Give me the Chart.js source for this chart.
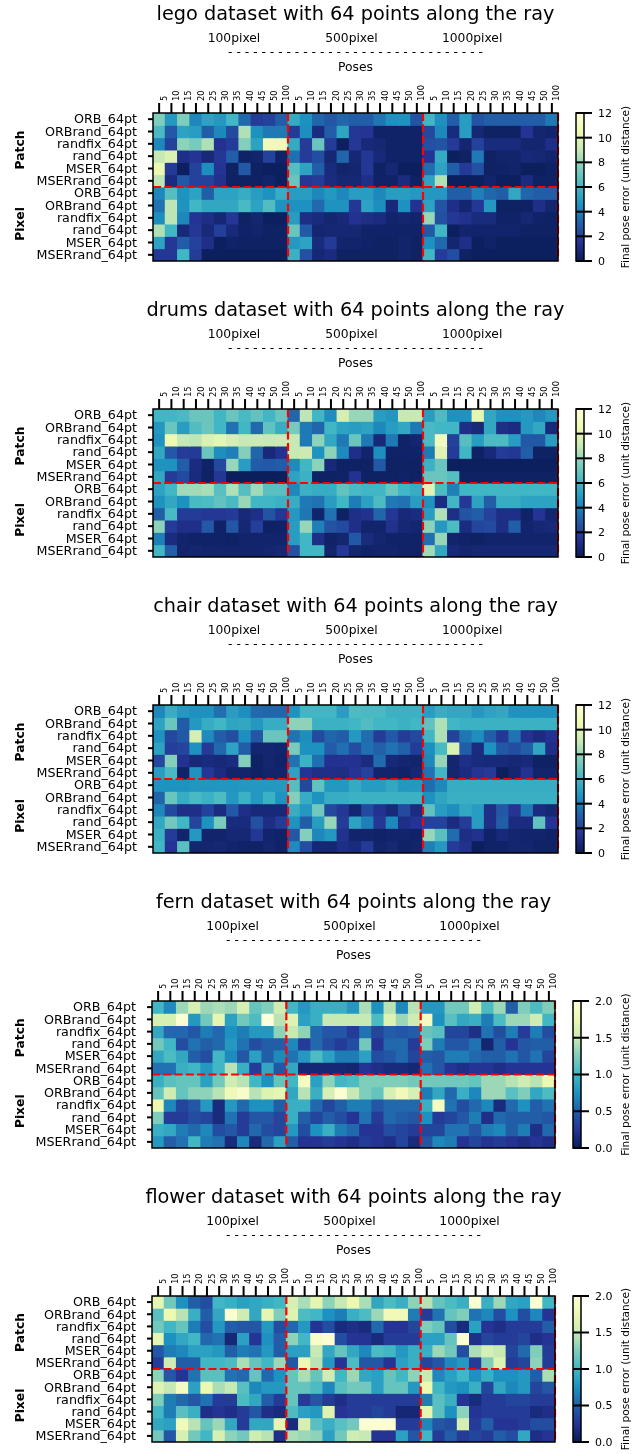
<!DOCTYPE html>
<html>
<head>
<meta charset="utf-8">
<title>Final pose error heatmaps</title>
<script src="https://cdn.jsdelivr.net/npm/chart.js@4"></script>
<style>
  body { margin: 0; background: #fff; }
  #page { position: relative; width: 643px; height: 1454px; overflow: hidden; }
  canvas { position: absolute; }
</style>
</head>
<body>
<div id="page"></div>
<script>
const poseTicks = ['5', '10', '15', '20', '25', '30', '35', '40', '45', '50', '100'];
const categories = [...poseTicks, ...poseTicks, ...poseTicks];
const rowLabels = ['ORB_64pt', 'ORBrand_64pt', 'randfix_64pt', 'rand_64pt', 'MSER_64pt', 'MSERrand_64pt',
  'ORB_64pt', 'ORBrand_64pt', 'randfix_64pt', 'rand_64pt', 'MSER_64pt', 'MSERrand_64pt'];
const groupLabels = ['100pixel', '500pixel', '1000pixel'];

const legoValues = [
  [7.5,4.8,7.5,4.2,5.2,4.8,6,3.3,1.8,2,3, 5.5,4.5,3.2,2.7,3.2,3,3,3.7,4.5,4.6,2.6, 6,4.5,3,5,2.6,3,3,3,3,3,3.8],
  [6.2,2.8,5.2,5,3,4.2,2.3,8.5,4.5,3.8,3.8, 1.7,4.4,1,3,5.3,1.6,1.5,.4,.4,.4,.4, 2.2,4.2,.9,5,.7,.3,.3,.3,1.5,.6,.5],
  [4.2,2,7.8,7.3,8.5,1.4,1.8,7.6,5.2,10.8,10.8, 5.5,1.8,7,1.8,.2,1.6,.8,.7,.4,.4,.4, 2.5,2.6,1.7,.6,2,.9,.9,.9,.6,.6,1.2],
  [9,9.8,1.2,1.5,.8,1.6,3,.4,.5,2,.4, 3.5,1.8,2.4,.7,3.2,.7,1.6,.8,.4,.4,.4, 1.5,5.5,.2,.3,3.8,.3,.5,.5,.8,.7,.5],
  [10.5,1.7,.2,2,4.4,1.5,.3,2.8,.3,.2,.2, 6.5,5.2,3,.9,.5,.6,1.6,.3,.7,.2,.2, 3.4,5.2,3,1.7,2.5,.3,.4,.5,.2,.2,.3],
  [8.8,1,2.8,2,2,1.3,.3,.3,.3,.5,.2, 7,1.6,1.8,1,.7,.7,1.2,.4,.4,1,.3, 5.2,8.5,.2,.2,.2,.5,.2,.2,1,.3,.3],
  [4.2,6.5,4.6,5.2,3,5.2,5.2,5.6,5,4.5,5.6, 5,5,4.2,4.8,4.2,5,5,4.2,5,5,4.8, 4.8,4.8,3,3,4,3.2,3,5.4,3.2,3,3],
  [3.6,8.8,4.6,6,5.4,5.4,5.4,6.2,5.2,6.4,4.6, 4.5,4.5,3.3,4.6,4.6,1.6,5.2,4.4,.8,4.5,1.4, 5.2,2.6,1.2,.6,1.6,4.8,.3,.3,.3,1.2,.6],
  [4.4,8.8,4.2,1.5,1.1,.7,1.6,.3,.6,.2,.2, 5,1.1,.9,.6,.8,1.4,1.1,1,.5,.6,.5, 8,2.5,1.6,1.3,.9,.9,.4,.4,.7,.4,.3],
  [8.5,6,.8,1.6,.8,1.9,.8,.4,.5,.3,.3, 7,2.8,.6,.7,.7,.7,.4,.4,.4,.4,.4, 2.8,6,.2,.5,.5,.5,.5,.5,.3,.3,.3],
  [5.2,1.6,2.9,2,1.2,.2,.4,.3,.3,.3,.3, 4.8,5.2,.9,1.7,.5,.5,.4,.3,.3,.5,.3, 4.5,3.3,.6,1.2,.2,.4,.2,.2,.2,.2,.2],
  [1.6,1.6,6,1.8,.2,.2,.2,.2,.2,.2,.2, 5.8,2.5,.7,1,.3,.3,.3,.3,.3,.5,.3, 6,1.8,2.4,.3,.2,.2,.2,.2,.2,.2,.2]
];
const drumsValues = [
  [6,6,6.2,7,7,6,7,6.2,6.8,6,7, 3.2,8.8,6,4.4,9.5,8,8,5,4.7,9,9, 5,6.3,4.5,4.6,10.2,5.4,4.5,4.5,4.8,4.2,4.8],
  [4.8,7,5,6.4,7,6,3.6,6,3.3,6.8,5.6, 7.3,3.8,3.2,6,5.2,5,5.2,4.2,5,5.4,3.8, 6.2,6,6,1.2,.8,5.4,1.2,1,4.8,5.4,.8],
  [4.6,10.5,9,8.8,9.8,10.2,9.5,9,9.2,9,9.2, 9,3.8,7.8,5.4,3.8,7,3.8,.8,3.8,.4,.6, 6.2,11,2,6.5,5,6.3,6.3,5,2.8,2.8,5],
  [5.4,2.8,1.8,1.7,7,4.4,4,7.6,3.2,.8,1.4, 9,9.2,4.6,7.8,4.3,1.2,.5,4.4,.4,.4,.4, 3.8,10,1.8,6,.3,.8,1.8,1.6,3,.3,.3],
  [4.6,4.6,3,1,.4,2.2,8,5,2.9,2.8,2.9, 4.3,6,7.8,.8,.3,.3,.3,2.8,.3,.3,.3, 5.8,7,.2,.2,.2,.2,.2,.2,.2,.2,.2],
  [5.4,1.8,2.3,.9,.3,1.6,.1,.1,.1,.1,.1, 5.2,5.8,.3,.3,.4,1.4,.3,.3,.3,.4,.3, 7,7,6.5,.3,.3,.3,.3,.3,.3,.3,.3],
  [5.2,6,8.2,8.2,8.4,6.6,8.5,6.5,8.2,6.6,6.6, 4.2,5.8,5.6,5.6,6.8,6.2,6,6,7,6,5.6, 10,6.3,4,6,6,6,6,6,6,6,6],
  [4.6,5.4,4.5,6.2,6.3,6.8,6.2,8,6,6,5.8, 5.6,3.8,3.6,5,6,3.9,5.1,6.3,3.8,3.6,5, 4.6,1,6,1.6,5.2,3,5.6,5.6,5.2,5.2,5.2],
  [3,6.2,1.8,1.8,1.6,1.6,1.7,.8,1.2,2.6,1.6, 4.8,3.7,.5,3.6,.3,1.2,1.4,3.2,1.6,.8,1, 5,8.5,1.2,2.6,3,2,1.2,1.2,.4,1.5,.6],
  [7.8,1.8,1.2,1.2,2.8,.4,2.7,.7,1.9,.3,.4, 5,8,4,2.6,2.3,1.2,.5,.5,1.3,.7,.6, 7.8,4.8,6.3,1,2.1,2.3,1.1,3,.5,.7,.8],
  [4,1,.5,.4,.4,.4,.3,.5,.5,.5,.5, 5,6,1.2,.4,.6,2.8,.9,.6,.4,.4,.4, 3.5,8,.5,.4,.3,.5,.5,.5,.5,.5,.5],
  [6,3,.5,.6,.5,.5,.5,.5,.5,.6,.7, 2.5,6,6,.5,1.6,.6,.4,.5,.5,.4,.4, 8.2,5.4,.8,.6,.7,.7,.7,.7,.7,.7,.7]
];
const chairValues = [
  [4.2,5.6,4.8,4.5,4.5,3.5,5,4.4,3.3,3.2,3.2, 4.6,6,6,6,5,6.3,6.2,6.2,5.8,5.8,5.8, 5,5.6,5.4,5.4,4.8,5.2,5.4,4.6,4.6,4.6,4.6],
  [5.2,7,2.9,4.8,5.6,6,5.3,5.4,4.8,5.6,5.6, 7.8,7.8,5.8,5.8,5.8,6,6.4,6,6,5.8,6, 6.8,8.5,6,5.8,5.8,5.8,5.8,5.8,5.8,5.8,5.8],
  [4.6,2.2,2.8,9.5,4.3,3,2.4,4.4,2.7,7,7, 3.6,4.4,2.3,3.2,2.9,4.8,3.4,1.8,2.8,1.8,2.2, 6,8.5,2,3.7,4.4,3,1.6,3.6,1.4,1,1.4],
  [5.2,1.9,2.1,4.5,1.7,3.3,5.2,3,.6,.6,.5, 7.4,4.5,4.5,2.9,3.5,2.4,3.5,3.1,3.6,3.1,1.8, 4.4,6.2,9.8,3,1,4.5,2.8,2.4,3,5.3,1.2],
  [2.2,7.6,1.4,.8,.9,.8,1,7.6,.3,.6,.4, 3.6,5.8,3.5,1.4,1.4,1.4,1,3.4,.8,.6,.5, 4.2,8,.6,1.2,.9,.8,.8,.7,.8,.3,.3],
  [5,6.2,.4,4.6,1.6,1,.5,.5,.3,.5,.5, 5.2,1.5,1.2,1.2,1.1,1.5,2,.5,.5,.4,.7, 3.6,6,.6,1,1.5,1.7,.2,.6,1.4,.5,.5],
  [4.6,4.6,4.6,4.7,4.7,4.7,4.7,4.8,4.8,4.8,4.8, 6.5,2.2,6.8,4.8,4.8,5.5,4.9,4.9,5.4,4.8,4.8, 3.4,4.2,5.6,5.6,5.6,5.6,5.6,5.6,5.6,5.6,5.6],
  [3.2,7,5.6,6.2,5.8,6.3,4.8,5.8,4.8,5.8,4.6, 7.6,5.6,4.6,5.6,5.6,5.8,5.8,5.8,5.8,5.8,5.8, 4.5,5.3,5.7,5.7,5.7,5.7,5.7,5.7,5.7,5.7,5.7],
  [4.2,2.2,1.2,1.2,2,1,2.8,1.2,.8,.8,.8, 5.6,4.8,7.2,2.2,1.6,.6,2.3,1.4,.8,2.3,1, 6.8,5,4.4,5.4,5,1.2,2.8,1.5,3.8,1,.7],
  [5.4,7.2,6,2.1,4.6,7.4,.9,.9,2.5,1.1,1.8, 4.6,3,5,8,1.8,5.2,4,1.6,4.2,1.2,1.5, 2,2,1,1.8,5,1.2,3,1,1,6.8,1.5],
  [5.8,1.8,.5,4.8,.5,.5,.7,.7,1.6,.5,.4, 2.7,7.6,4.2,4.8,1.3,.5,.5,.4,.5,.5,.4, 8,6.6,3.4,1.1,1.3,.4,.8,.6,.5,.5,.4],
  [6,1.5,6.6,.6,.6,.7,.5,.4,.4,.6,.4, 4.3,2.4,.7,.7,1.1,.9,1.7,.5,.7,.4,.5, 4,4.8,1.8,1.3,.2,.4,.4,.6,.6,.4,.4]
];
const fernValues = [
  [1,.72,1.35,1.6,1.35,1.4,1.35,1.6,1.15,1.25,1.55, 1,.8,.95,.95,.95,.8,1.4,.75,1.45,.7,1.45, .8,.8,1.2,1.2,1.55,1.05,1.35,.5,1.25,1.05,1.25],
  [1.6,1.6,1.95,.8,1.2,1.7,.85,1.2,1.05,2,1.45, 1.65,.85,.95,1.5,1.5,1.5,1.5,1.05,1.65,1.35,1.55, 1.85,.75,1.1,.9,.95,.65,1.05,1.35,1.35,1.55,1],
  [.9,.55,.55,.45,.65,.55,.75,.65,.8,.8,1.3, 1.5,1.3,.55,.45,.45,.3,.6,.35,.5,.45,.5, 1.15,1.1,.35,.35,.2,.6,.4,.65,.3,.65,.4],
  [1.2,1,.4,.6,.5,.55,.8,.6,.4,.5,.5, .7,.3,.55,.4,.3,.4,1.2,.25,.55,.55,.3, 1.25,.65,.45,.45,.6,.1,.5,.25,.45,.5,.5],
  [.9,1.05,.9,.5,.4,1,.72,.45,.85,.5,.72, .6,.8,1.05,.85,.65,.65,.85,.4,.45,.55,.35, .5,.45,.65,.65,.55,.5,.5,.6,.45,.6,.35],
  [.6,.6,.95,1,.8,1,1.45,.95,.3,.9,.45, .9,.12,.12,.12,.12,.1,.25,.2,.15,.15,.12, .6,.45,.25,.2,.25,.25,.2,.25,.25,.25,.25],
  [.95,1.1,1.15,1.15,.85,1.2,1.55,1.45,1,.75,1.15, 1,1.85,.85,1.3,1,1.05,1.25,1.25,1.25,1.25,1.2, 1.2,1.2,1.2,1.2,1.15,1.35,1.35,1.45,1.55,1.45,1.75],
  [1.15,1.55,1.15,1.3,1.3,1.45,1.8,1.9,1.45,1.65,1.7, .9,1.45,.95,1.6,1.95,1.5,1.25,1.15,1.6,1.8,1.6, .65,.9,.55,.95,.7,1.35,1.35,1.1,1.25,.9,1.05],
  [1.75,.7,.35,.45,.8,.15,.8,.55,.75,.75,.5, .95,.95,.55,.35,.5,.65,.65,.45,.55,.55,.55, .95,1.85,.6,.4,.55,.7,.15,.55,.75,.5,.6],
  [1.25,.3,.3,.4,.35,.15,.6,.3,.45,.45,.35, .95,.5,.35,.5,.4,.25,.6,.3,.55,.5,.45, .75,.3,.35,.45,.65,.2,.55,.5,.5,.5,.45],
  [.95,.9,.65,.55,.7,.4,.45,.3,.55,.4,.35, .8,.4,.75,.95,.65,.55,.25,.25,.4,.35,.3, .35,.35,.6,.6,.45,.65,.7,.5,.65,.2,.55],
  [.8,.5,.6,1,.65,.6,.15,.7,.15,.55,.85, .5,.25,.25,.3,.25,.2,.3,.25,.2,.35,.15, .45,.7,.65,.25,.35,.25,.3,.25,.2,.25,.2]
];
const flowerValues = [
  [1.7,1.2,.75,.5,.4,1,.95,.85,.9,.95,1, 1.6,1.4,1.7,1.3,1.5,1.75,1.4,.9,1.05,.95,1.3, 1.45,1.15,1.05,.95,1.95,.95,1.35,.9,.85,1.95,1],
  [1.1,1.75,1.45,.95,.5,.9,1.95,1.55,.9,1.7,1.25, 1.65,1.05,1,.75,.65,.95,1.05,1.35,1.8,1.8,.65, .3,.6,1.15,1.25,.6,.7,.4,.75,.4,.7,.25],
  [1.2,1,1.15,.65,.4,.8,.5,.45,.45,.8,.4, .55,.8,.25,.4,.15,.2,.15,.55,.25,.25,.35, 1.25,1.15,.4,.15,.85,.25,.2,.3,.3,.3,.5],
  [1.7,.75,.9,1,.55,.6,.12,.85,.25,.75,.5, 1.3,1,1.9,1.95,.4,.25,.25,.15,.3,.3,.3, .85,.85,1.15,1.95,.2,.35,.3,.3,.35,.2,.25],
  [.45,.65,.7,.85,.85,.8,.5,.65,.6,.8,.5, .85,.85,1.5,.9,1.15,.9,.7,1.05,1,.8,.95, .95,1.35,1.2,.4,1.4,1.6,1.5,.35,.55,1.25,.3],
  [.3,1.55,.5,.5,1,1,1.05,1.4,1.15,1,1.35, .45,1.75,1.45,.8,.25,1.05,.45,.45,.25,.85,.95, .35,.45,.7,.8,.3,1.25,1.65,.3,.35,1.3,.3],
  [1.3,.45,.25,.6,1.1,1.1,.6,.55,1.15,.55,.75, 1.15,1.4,1.15,1.55,1,1.35,.9,.85,1.15,1,1.3, 1.5,.7,.85,1,.75,.95,.75,.75,.8,.5,1.4],
  [1.65,1.5,1.85,.85,1.75,1.4,1.5,1.1,.7,.8,.8, 1.15,1.15,1.05,.7,1.1,1.2,1.2,.85,1.15,1.15,.8, 1.75,1,.8,.75,.95,.35,.9,.7,.8,.35,.45],
  [1.25,.65,.55,.45,.6,.3,.3,1.05,.9,.5,.3, 1.15,.3,.45,.3,.2,.3,.3,.3,.3,.3,.3, .65,1.1,.95,.25,.15,.3,.3,.35,.35,.3,.3],
  [1,.65,1.1,.95,.2,.25,.2,.3,.45,.2,.15, 1.05,.85,.8,1.65,.25,.3,.3,.35,.3,.12,.12, 1.7,1.1,.75,1.3,.25,.3,.3,.3,.3,.15,.2],
  [.9,.85,1.8,1.45,1.15,1.35,.9,.3,.9,.9,1.7, .15,1.6,1.1,.95,1.1,1.2,1.95,1.95,1.95,.3,.3, .7,.45,.4,1.6,.3,.5,.25,.25,.3,.4,.4],
  [1.2,.45,1.6,1.2,1,1.6,1.3,1.2,1.55,1.45,.2, 1.4,1.35,1.3,.85,1.2,1.55,1.5,.25,.25,.85,.45, 1,.3,.5,.3,.35,.3,.5,.4,.9,.2,.25]
];

const FONT = "'DejaVu Sans'";
Chart.defaults.font.family = FONT;
Chart.defaults.color = '#000';

// YlGnBu reversed, sampled stops
const cmapStops = [
  [8, 29, 88], [37, 52, 148], [34, 94, 168], [29, 145, 192], [65, 182, 196],
  [127, 205, 187], [199, 233, 180], [237, 248, 177], [255, 255, 217]
];
function lerp(a, b, t) { return a + (b - a) * t; }
function colorFor(t) {
  t = Math.max(0, Math.min(1, t));
  const idx = t * (cmapStops.length - 1);
  const i0 = Math.floor(idx);
  const i1 = Math.min(cmapStops.length - 1, i0 + 1);
  const u = idx - i0;
  const c0 = cmapStops[i0];
  const c1 = cmapStops[i1];
  return `rgb(${Math.round(lerp(c0[0], c1[0], u))},${Math.round(lerp(c0[1], c1[1], u))},${Math.round(lerp(c0[2], c1[2], u))})`;
}

function addCanvas(left, top, width, height) {
  const c = document.createElement('canvas');
  c.width = width;
  c.height = height;
  c.style.left = left + 'px';
  c.style.top = top + 'px';
  c.style.width = width + 'px';
  c.style.height = height + 'px';
  document.getElementById('page').appendChild(c);
  return c;
}

// fixed axis boxes, so the chart area lands exactly where the reference has it
function fixedAxis(size) {
  return (scale) => {
    if (scale.isHorizontal()) scale.height = size; else scale.width = size;
    scale.paddingLeft = scale.paddingRight = scale.paddingTop = scale.paddingBottom = 0;
  };
}

function drawText(ctx, text, x, y, font, rotate) {
  ctx.save();
  ctx.translate(x, y);
  if (rotate) ctx.rotate(-Math.PI / 2);
  ctx.font = font;
  ctx.fillStyle = '#000';
  ctx.textAlign = 'center';
  ctx.textBaseline = 'middle';
  ctx.fillText(text, 0, 0);
  ctx.restore();
}

function drawLine(ctx, x1, y1, x2, y2) {
  ctx.beginPath();
  ctx.moveTo(x1, y1);
  ctx.lineTo(x2, y2);
  ctx.stroke();
}

const heatOverlay = {
  id: 'heatOverlay',
  afterDraw(chart, args, opts) {
    const ctx = chart.ctx;
    const a = chart.chartArea;
    const x = chart.scales.x;
    const y = chart.scales.y;
    // red separators between the pixel groups and patch/pixel
    ctx.save();
    ctx.strokeStyle = 'red';
    ctx.lineWidth = 2.2;
    ctx.setLineDash([8, 3.3]);
    [10.5, 21.5, 32.5].forEach(v => {
      const px = x.getPixelForValue(v);
      drawLine(ctx, px, a.top, px, a.bottom);
    });
    const py = y.getPixelForValue(6);
    drawLine(ctx, a.left, py, a.right, py);
    ctx.setLineDash([]);
    ctx.strokeStyle = '#000';
    ctx.lineWidth = 1.5;
    ctx.strokeRect(a.left, a.top, a.right - a.left, a.bottom - a.top);
    ctx.lineWidth = 2;
    categories.forEach((_, i) => {
      const px = x.getPixelForValue(i);
      drawLine(ctx, px, a.top, px, a.top - 10);
    });
    rowLabels.forEach((_, i) => {
      const ry = y.getPixelForValue(i + 0.5);
      drawLine(ctx, a.left, ry, a.left - 5, ry);
    });
    ctx.restore();

    const mid = (a.left + a.right) / 2;
    const w = a.right - a.left;
    drawText(ctx, opts.title, mid, a.top - 98, `19.3px ${FONT}`);
    [0.2, 0.49, 0.788].forEach((f, i) => drawText(ctx, groupLabels[i], a.left + w * f, a.top - 74, `12.3px ${FONT}`));
    drawText(ctx, '- '.repeat(31).trim(), mid, a.top - 60, `12.3px ${FONT}`);
    drawText(ctx, 'Poses', mid, a.top - 45, `12.3px ${FONT}`);
    drawText(ctx, 'Patch', 20.5, y.getPixelForValue(3), `bold 12.3px ${FONT}`, true);
    drawText(ctx, 'Pixel', 20.5, y.getPixelForValue(9), `bold 12.3px ${FONT}`, true);
  }
};

function drawHeatmap(panel) {
  const height = panel.bottom - panel.top + 113 + 6;
  const canvas = addCanvas(0, panel.top - 113, 571, height);
  new Chart(canvas, {
    type: 'bar',
    data: {
      labels: categories,
      datasets: rowLabels.map((label, r) => ({
        label,
        data: panel.values[r].map(() => [r, r + 1]),
        backgroundColor: panel.values[r].map(v => colorFor(v / panel.max)),
        borderWidth: 0,
        inflateAmount: 0.5,
        barPercentage: 1,
        categoryPercentage: 1
      }))
    },
    options: {
      responsive: false,
      animation: false,
      events: [],
      layout: { padding: { left: 0, right: 571 - panel.right, top: 0, bottom: 6 } },
      scales: {
        x: {
          position: 'top',
          stacked: true,
          afterFit: fixedAxis(113),
          border: { display: false },
          grid: { display: false, tickLength: 10 },
          ticks: { autoSkip: false, minRotation: 90, maxRotation: 90, padding: 2, labelOffset: 15.5, font: { size: 8.4 } }
        },
        y: {
          min: 0,
          max: 12,
          reverse: true,
          afterFit: fixedAxis(panel.left),
          afterBuildTicks: (scale) => { scale.ticks = rowLabels.map((_, i) => ({ value: i + 0.5 })); },
          border: { display: false },
          grid: { display: false, tickLength: 5 },
          ticks: { autoSkip: false, padding: 11, labelOffset: 1, font: { size: 12.7 }, callback: (v) => rowLabels[v - 0.5] }
        }
      },
      plugins: {
        legend: { display: false },
        tooltip: { enabled: false },
        heatOverlay: { title: panel.title }
      }
    },
    plugins: [heatOverlay]
  });
}

const colorbarOverlay = {
  id: 'colorbarOverlay',
  afterDraw(chart) {
    const ctx = chart.ctx;
    const a = chart.chartArea;
    const y = chart.scales.y;
    ctx.save();
    ctx.strokeStyle = '#000';
    ctx.lineWidth = 1.5;
    ctx.strokeRect(a.left, a.top, a.right - a.left, a.bottom - a.top);
    ctx.lineWidth = 2;
    y.ticks.forEach(t => {
      const py = y.getPixelForValue(t.value);
      drawLine(ctx, a.left, py, a.right + 8, py);
    });
    ctx.restore();
    drawText(ctx, 'Final pose error (unit distance)', chart.width - 17, (a.top + a.bottom) / 2, `10.6px ${FONT}`, true);
  }
};

function drawColorbar(panel) {
  const height = panel.bottom - panel.top + 60;
  const width = 643 - panel.cbLeft + 3;
  const canvas = addCanvas(panel.cbLeft - 3, panel.top - 30, width, height);
  new Chart(canvas, {
    type: 'bar',
    data: {
      labels: ['error'],
      datasets: [{
        data: [[0, panel.max]],
        barPercentage: 1,
        categoryPercentage: 1,
        borderWidth: 0,
        backgroundColor: (c) => {
          const a = c.chart.chartArea;
          if (!a) return '#081d58';
          const g = c.chart.ctx.createLinearGradient(0, a.bottom, 0, a.top);
          cmapStops.forEach((s, i) => g.addColorStop(i / (cmapStops.length - 1), `rgb(${s[0]},${s[1]},${s[2]})`));
          return g;
        }
      }]
    },
    options: {
      responsive: false,
      animation: false,
      events: [],
      layout: { padding: { left: 3, right: 0, top: 30, bottom: 30 } },
      scales: {
        x: { display: false, afterFit: fixedAxis(0) },
        y: {
          position: 'right',
          min: 0,
          max: panel.max,
          afterFit: fixedAxis(width - 3 - 8),
          border: { display: false },
          grid: { display: false, tickLength: 8 },
          ticks: {
            stepSize: panel.step,
            padding: 6,
            labelOffset: 1,
            font: { size: 11 },
            callback: (v) => panel.max > 2 ? String(v) : v.toFixed(1)
          }
        }
      },
      plugins: { legend: { display: false }, tooltip: { enabled: false } }
    },
    plugins: [colorbarOverlay]
  });
}

const panels = [
  { title: 'lego dataset with 64 points along the ray', values: legoValues, max: 12, step: 2, left: 153, right: 558, top: 113, bottom: 261, cbLeft: 576 },
  { title: 'drums dataset with 64 points along the ray', values: drumsValues, max: 12, step: 2, left: 153, right: 558, top: 409, bottom: 557, cbLeft: 576 },
  { title: 'chair dataset with 64 points along the ray', values: chairValues, max: 12, step: 2, left: 153, right: 558, top: 705, bottom: 853, cbLeft: 576 },
  { title: 'fern dataset with 64 points along the ray', values: fernValues, max: 2, step: 0.5, left: 152, right: 555, top: 1001, bottom: 1148, cbLeft: 573 },
  { title: 'flower dataset with 64 points along the ray', values: flowerValues, max: 2, step: 0.5, left: 152, right: 555, top: 1296, bottom: 1442, cbLeft: 573 }
];

panels.forEach(p => {
  drawHeatmap(p);
  drawColorbar(p);
});
</script>
</body>
</html>
